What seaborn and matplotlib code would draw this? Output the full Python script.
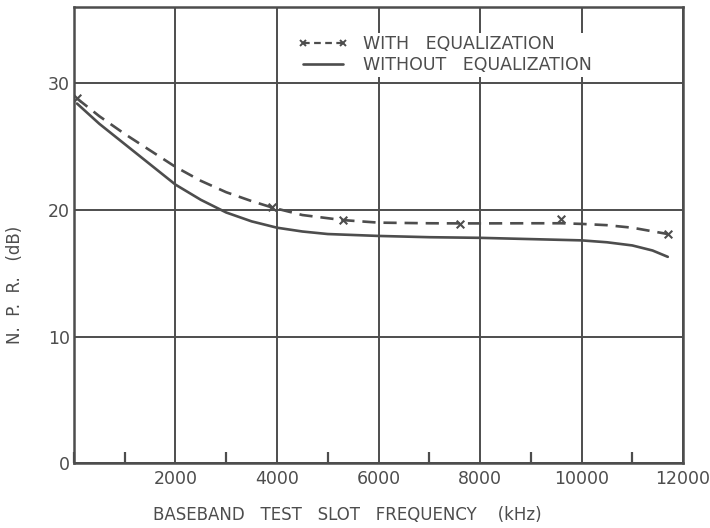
import matplotlib
matplotlib.use("Agg")
import matplotlib.pyplot as plt
from matplotlib.lines import Line2D
from matplotlib.ticker import MultipleLocator
import pandas as pd
import seaborn as sns

# Curve with equalization (dashed) and its measured points (x markers)
freq_eq = [60, 500, 1000, 1500, 2000, 2500, 3000, 3500, 3900, 4500, 5300,
           6000, 7000, 7600, 8000, 9000, 9600, 10000, 10500, 11000, 11700]
npr_eq = [28.8, 27.4, 26.0, 24.7, 23.4, 22.3, 21.4, 20.7, 20.2, 19.6, 19.2,
          19.0, 18.95, 18.94, 18.94, 18.95, 18.95, 18.9, 18.8, 18.6, 18.1]
meas_freq = [60, 3900, 5300, 7600, 9600, 11700]
meas_npr = [28.8, 20.2, 19.2, 18.9, 19.3, 18.1]

# Curve without equalization (solid)
freq_noeq = [60, 500, 1000, 1500, 2000, 2500, 3000, 3500, 4000, 4500, 5000,
             6000, 7000, 8000, 9000, 10000, 10500, 11000, 11400, 11700]
npr_noeq = [28.4, 26.8, 25.2, 23.6, 22.0, 20.8, 19.8, 19.1, 18.6, 18.3, 18.1,
            17.95, 17.85, 17.8, 17.7, 17.6, 17.45, 17.2, 16.8, 16.3]

x_ticks = [2000, 4000, 6000, 8000, 10000, 12000]
y_ticks = [0, 10, 20, 30]
legend_labels = ["WITH   EQUALIZATION", "WITHOUT   EQUALIZATION"]

sns.set_theme(style="white")
plt.rcParams["font.family"] = ["DejaVu Sans"]

ink = "#4d4d4d"
fig = plt.figure(figsize=(7.1, 5.28), dpi=100)
ax = fig.add_axes([0.1042, 0.1225, 0.8578, 0.8637])

df_eq = pd.DataFrame({"f": freq_eq, "npr": npr_eq})
df_noeq = pd.DataFrame({"f": freq_noeq, "npr": npr_noeq})
df_meas = pd.DataFrame({"f": meas_freq, "npr": meas_npr})

sns.lineplot(data=df_eq, x="f", y="npr", ax=ax, color=ink, lw=1.9,
             linestyle=(0, (5, 3)), sort=False, zorder=4)
sns.scatterplot(data=df_meas, x="f", y="npr", ax=ax, color=ink, marker="x",
                s=30, linewidth=1.5, zorder=5)
sns.lineplot(data=df_noeq, x="f", y="npr", ax=ax, color=ink, lw=1.9,
             sort=False, zorder=4)

ax.set_xlim(0, 12000)
ax.set_ylim(0, 36)
ax.set_xticks(x_ticks)
ax.set_yticks(y_ticks)
ax.xaxis.set_minor_locator(MultipleLocator(1000))
ax.grid(True, which="major", color=ink, lw=1.4, zorder=1)
ax.tick_params(axis="x", which="major", length=0, pad=5, labelsize=12.5,
               labelcolor=ink)
ax.tick_params(axis="x", which="minor", direction="in", length=8, width=1.6,
               color=ink, bottom=True)
ax.tick_params(axis="y", which="major", length=0, pad=3, labelsize=12.5,
               labelcolor=ink)
for sp in ax.spines.values():
    sp.set_color(ink)
    sp.set_linewidth(1.8)
    sp.set_visible(True)

ax.set_xlabel("")
ax.set_ylabel("")
fig.text(0.489, 0.008, "BASEBAND   TEST   SLOT   FREQUENCY    (kHz)",
         ha="center", va="bottom", fontsize=12, color=ink)
fig.text(0.021, 0.46, "N.  P.  R.   (dB)", rotation=90, ha="center",
         va="center", fontsize=12, color=ink)

handles = [
    Line2D([], [], color=ink, lw=1.6, linestyle=(0, (3, 2)), marker="x",
           markersize=5, markeredgewidth=1.4),
    Line2D([], [], color=ink, lw=1.9),
]
leg = ax.legend(handles, legend_labels, loc="upper left",
                bbox_to_anchor=(0.349, 0.963), numpoints=2, frameon=True,
                fontsize=12.5, handlelength=2.9, handletextpad=0.85,
                labelspacing=0.17, borderpad=0.15, facecolor="white",
                edgecolor="none", framealpha=1.0)
for t in leg.get_texts():
    t.set_color(ink)
leg.set_zorder(6)

fig.savefig("out.png", dpi=100)
